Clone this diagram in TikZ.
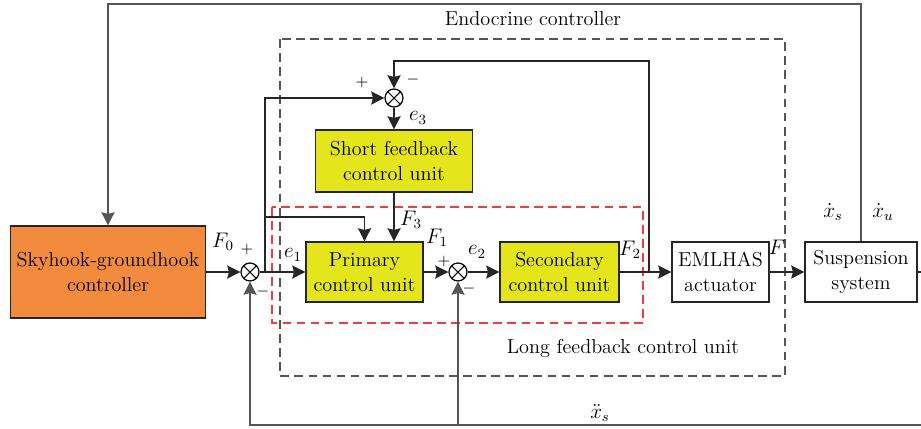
\documentclass[tikz,border=0pt]{standalone}
\usepackage{tikz}
\usetikzlibrary{arrows.meta,positioning,calc}
\definecolor{skyorange}{HTML}{F38B3E}
\definecolor{unityellow}{HTML}{E5E51C}
\definecolor{bk85}{HTML}{262626}
\definecolor{bk65}{HTML}{555555}
\definecolor{redframe}{HTML}{F03C3C}
\tikzset{
  ctrlbox/.style={
    rectangle, draw=bk85, fill=#1, line width=0.7pt,
    font=\fontsize{11.5}{14}\selectfont, align=center,
    inner sep=2pt
  },
  ctrlbox/.default=white,
  sumnode/.style={
    circle, draw=black, fill=white, line width=0.7pt,
    minimum size=0.36cm, inner sep=0pt,
    path picture={
      \draw[line width=0.6pt]
        (path picture bounding box.north west) -- (path picture bounding box.south east)
        (path picture bounding box.north east) -- (path picture bounding box.south west);
    }
  },
  sigarrow/.style={
    -{Stealth[length=7.5pt, width=7.5pt, inset=1pt]}, line width=0.7pt, color=#1
  },
  sigarrow/.default=bk85,
  sigline/.style={line width=0.7pt, color=#1},
  sigline/.default=bk85,
  siglabel/.style={font=\fontsize{12}{14}\selectfont, inner sep=0pt},
  titlelabel/.style={font=\fontsize{11.5}{14}\selectfont, inner sep=0pt},
  signlabel/.style={font=\fontsize{9}{10}\selectfont, inner sep=0pt},
  unitframe/.style={draw=#1, line width=0.7pt, dash pattern=on 5pt off 3pt},
  unitframe/.default=bk65,
}
\begin{document}
\begin{tikzpicture}
  \useasboundingbox (0,0) rectangle (18.42,-8.56);

  % Dashed frames
  \draw[unitframe=bk65] (5.6,-0.78) rectangle (15.7,-7.52);
  \draw[unitframe=redframe] (5.44,-4.14) rectangle (12.86,-6.46);

  % Blocks of the main path
  \node[ctrlbox=skyorange, minimum width=3.9cm, minimum height=1.84cm] (sky) at (2.16,-5.44) {Skyhook-groundhook\\controller};
  \node[sumnode] (sum1) at (5.0,-5.44) {};
  \node[ctrlbox=unityellow, minimum width=2.34cm, minimum height=1.2cm] (prim) at (7.29,-5.44) {Primary\\control unit};
  \node[sumnode] (sum2) at (9.16,-5.44) {};
  \node[ctrlbox=unityellow, minimum width=2.38cm, minimum height=1.2cm] (sec) at (11.19,-5.44) {Secondary\\control unit};
  \node[ctrlbox, minimum width=1.94cm, minimum height=1.2cm] (act) at (14.41,-5.44) {EMLHAS\\actuator};
  \node[ctrlbox, minimum width=2.24cm, minimum height=1.2cm] (susp) at (17.22,-5.44) {Suspension\\system};

  % Short feedback branch
  \node[sumnode] (sum3) at (7.88,-1.96) {};
  \node[ctrlbox=unityellow, minimum width=3.14cm, minimum height=1.24cm] (short) at (7.88,-3.22) {Short feedback\\control unit};

  % Junctions and free ends
  \coordinate (jE1) at (5.3,-5.44);
  \coordinate (jP) at (5.3,-4.34);
  \coordinate (jF2) at (12.98,-5.44);
  \coordinate (loop3) at (7.88,-1.22);
  \coordinate (endoc) at (2.16,-0.08);
  \coordinate (outR) at (18.42,-5.44);
  \coordinate (outB) at (18.42,-8.5);

  % Forward path
  \draw[sigarrow] (sky) -- (sum1);
  \draw[sigarrow] (sum1) -- (prim);
  \draw[sigarrow] (prim) -- (sum2);
  \draw[sigarrow] (sum2) -- (sec);
  \draw[sigarrow] (sec) -- (act);
  \draw[sigarrow] (act) -- (susp);
  \draw[sigline] (susp) -- (outR);

  % Short loop
  \draw[sigarrow] (jE1) |- (sum3);
  \draw[sigarrow] (jP) -| (prim.north);
  \draw[sigarrow] (jF2) |- (loop3) -- (sum3);
  \draw[sigarrow] (sum3) -- (short);
  \draw[sigarrow] (short) -- (prim.north -| short);

  % Endocrine loop and long feedback
  \draw[sigarrow=bk65] (susp) |- (endoc) -- (sky);
  \draw[sigarrow=bk65] (outB) -| (sum1);
  \draw[sigarrow=bk65] (sum2 |- outB) -- (sum2);

  % Signal labels
  \node[siglabel] (lF0) at (4.46,-4.84) {$F_0$};
  \node[siglabel] (le1) at (5.86,-5.1) {$e_1$};
  \node[siglabel] (lF3) at (8.22,-4.4) {$F_3$};
  \node[siglabel] (lF1) at (8.74,-4.76) {$F_1$};
  \node[siglabel] (le2) at (9.54,-5.04) {$e_2$};
  \node[siglabel] (lF2) at (12.6,-5.0) {$F_2$};
  \node[siglabel] (lF) at (15.54,-4.94) {$F$};
  \node[siglabel] (lxs) at (16.66,-4.24) {$\dot{x}_s$};
  \node[siglabel] (lxu) at (17.66,-4.24) {$\dot{x}_u$};
  \node[siglabel] (lxss) at (12.0,-8.26) {$\ddot{x}_s$};
  \node[siglabel] (le3) at (8.36,-2.36) {$e_3$};

  % Signs at the summing points
  \node[signlabel] (p1) at (4.94,-5.0) {$+$};
  \node[signlabel] (m1) at (5.26,-5.84) {$-$};
  \node[signlabel] (p2) at (8.88,-5.24) {$+$};
  \node[signlabel] (m2) at (9.38,-5.78) {$-$};
  \node[signlabel] (p3) at (7.24,-1.66) {$+$};
  \node[signlabel] (m3) at (8.26,-1.6) {$-$};

  % Frame titles
  \node[titlelabel] (endotitle) at (10.66,-0.38) {Endocrine controller};
  \node[titlelabel] (longtitle) at (12.46,-6.96) {Long feedback control unit};
\end{tikzpicture}
\end{document}
